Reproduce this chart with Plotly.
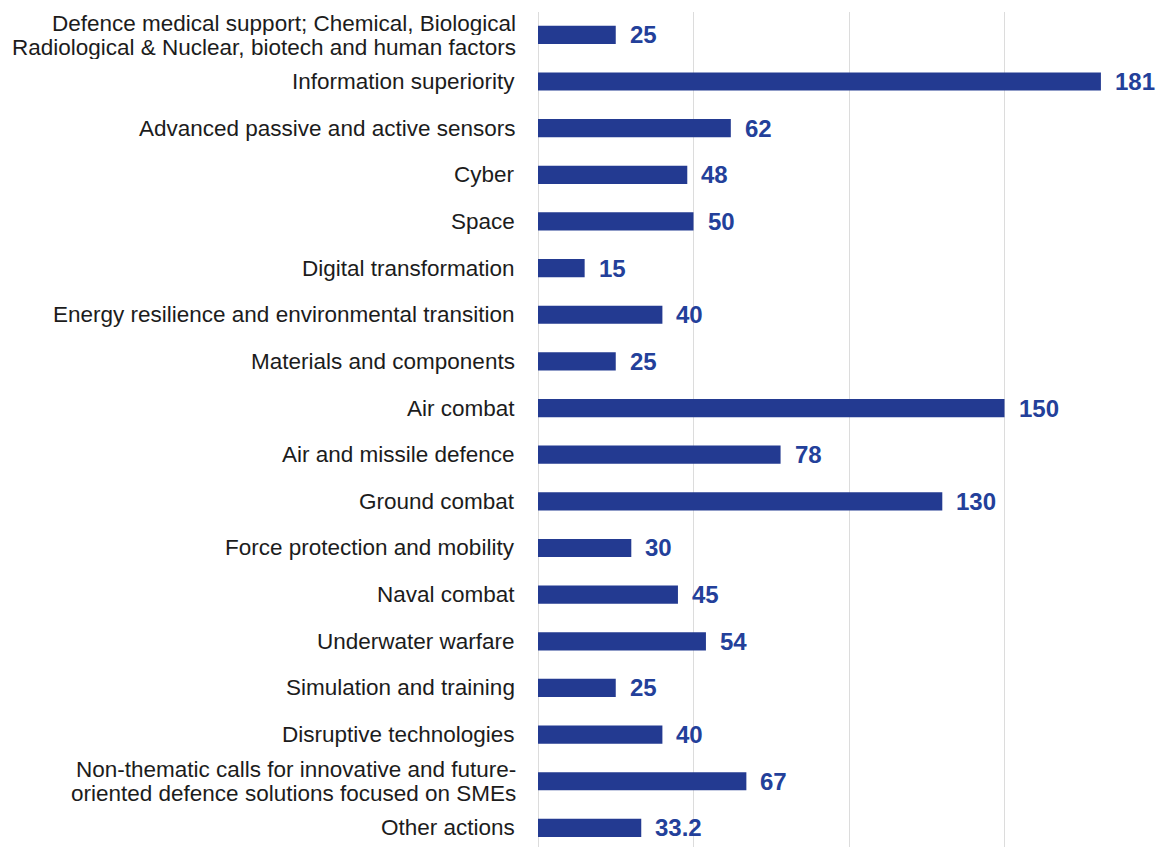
import plotly.graph_objects as go

categories = [
    "Defence medical support; Chemical, Biological<br>Radiological & Nuclear, biotech and human factors",
    "Information superiority",
    "Advanced passive and active sensors",
    "Cyber",
    "Space",
    "Digital transformation",
    "Energy resilience and environmental transition",
    "Materials and components",
    "Air combat",
    "Air and missile defence",
    "Ground combat",
    "Force protection and mobility",
    "Naval combat",
    "Underwater warfare",
    "Simulation and training",
    "Disruptive technologies",
    "Non-thematic calls for innovative and future-<br>oriented defence solutions focused on SMEs",
    "Other actions",
]
values = [25, 181, 62, 48, 50, 15, 40, 25, 150, 78, 130, 30, 45, 54, 25, 40, 67, 33.2]
value_labels = ["25", "181", "62", "48", "50", "15", "40", "25", "150", "78",
                "130", "30", "45", "54", "25", "40", "67", "33.2"]

BAR_BLUE = "#233a91"
LABEL_BLUE = "#23409a"
TEXT_DARK = "#1c1c1c"
FONT = "Liberation Sans, Arial, sans-serif"
LINE_GAP = 24  # px between lines of a wrapped category label

fig = go.Figure(
    go.Bar(
        x=values,
        y=categories,
        orientation="h",
        marker=dict(color=BAR_BLUE, line=dict(width=0)),
        width=0.39,
        hoverinfo="skip",
    )
)

# Category labels drawn as annotations so wrapped labels keep tight line spacing
for cat in categories:
    lines = cat.split("<br>")
    n = len(lines)
    for i, line in enumerate(lines):
        extra = dict(height=LINE_GAP, borderpad=0) if n > 1 else {}
        fig.add_annotation(
            x=0, xref="x", y=cat, yref="y", text=line, showarrow=False,
            xanchor="right", yanchor="middle", xshift=-21,
            yshift=((n - 1) / 2 - i) * LINE_GAP,
            font=dict(family=FONT, size=22.5, color=TEXT_DARK),
            **extra,
        )

# Value labels at the end of each bar
for cat, v, lab in zip(categories, values, value_labels):
    fig.add_annotation(
        x=v, y=cat, text=f"<b>{lab}</b>", showarrow=False,
        xanchor="left", yanchor="middle", xshift=12,
        font=dict(family=FONT, size=24, color=LABEL_BLUE),
    )

fig.update_layout(
    width=1160, height=847,
    margin=dict(l=538, r=0, t=12, b=0),
    paper_bgcolor="white", plot_bgcolor="white",
    showlegend=False,
    font=dict(family=FONT, size=20, color=TEXT_DARK),
)
fig.update_xaxes(
    range=[0, 200], tickvals=[0, 50, 100, 150], showticklabels=False,
    showgrid=True, gridcolor="#dcdcdc", gridwidth=1,
    zeroline=True, zerolinecolor="#dcdcdc", zerolinewidth=1,
    showline=False, fixedrange=True,
)
fig.update_yaxes(
    range=[17.41, -0.49], showgrid=False, showline=False, zeroline=False,
    ticks="", showticklabels=False, fixedrange=True,
)

fig.write_html("out.html")
